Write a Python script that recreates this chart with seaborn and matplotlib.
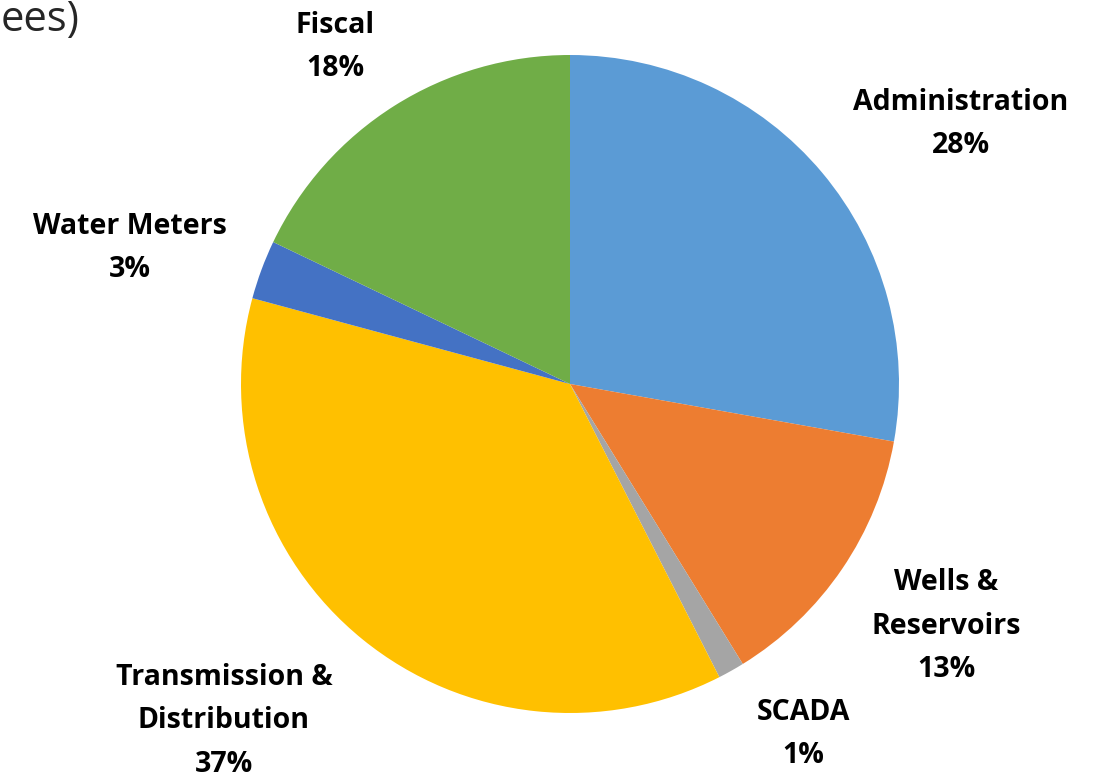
import matplotlib
matplotlib.use('Agg')
import matplotlib.pyplot as plt
import seaborn as sns
import numpy as np

sns.set_style('white')
plt.rcParams['font.family'] = ['Open Sans', 'DejaVu Sans']

# Данные (доли по секторам, по часовой стрелке от верха)
categories = ['Administration', 'Wells &\nReservoirs', 'SCADA',
              'Transmission &\nDistribution', 'Water Meters', 'Fiscal']
shares = [27.8, 13.4, 1.3, 36.7, 2.9, 17.9]
colors = ['#5B9BD5', '#ED7D31', '#A5A5A5', '#FFC000', '#4472C4', '#70AD47']

# Положение подписей в пикселях (центр текста)
label_pos = [(961, 124), (946, 626), (803, 734), (224, 721), (130, 248), (335, 47)]

W, H = 1103, 782
fig = plt.figure(figsize=(W / 100, H / 100), dpi=100)
ax = fig.add_axes([0, 0, 1, 1])

cx, cy, r = 570, H - 384, 329
wedges, _ = ax.pie(shares, colors=colors, startangle=90, counterclock=False,
                   center=(cx, cy), radius=r, frame=True,
                   wedgeprops=dict(linewidth=0))
ax.set_xlim(0, W)
ax.set_ylim(0, H)
ax.set_aspect('equal')
ax.axis('off')

# Подписи данных
for name, val, (px, py) in zip(categories, shares, label_pos):
    ax.text(px, H - py, f'{name}\n{round(val):.0f}%', ha='center', va='center',
            fontsize=20.5, fontweight='bold', linespacing=1.65, color='black')

# Обрезанный заголовок в левом верхнем углу
fig.text(1 / W, 1 - 20 / H, 'ees)', ha='left', va='center', fontsize=30)

fig.savefig('out.png', dpi=100)
